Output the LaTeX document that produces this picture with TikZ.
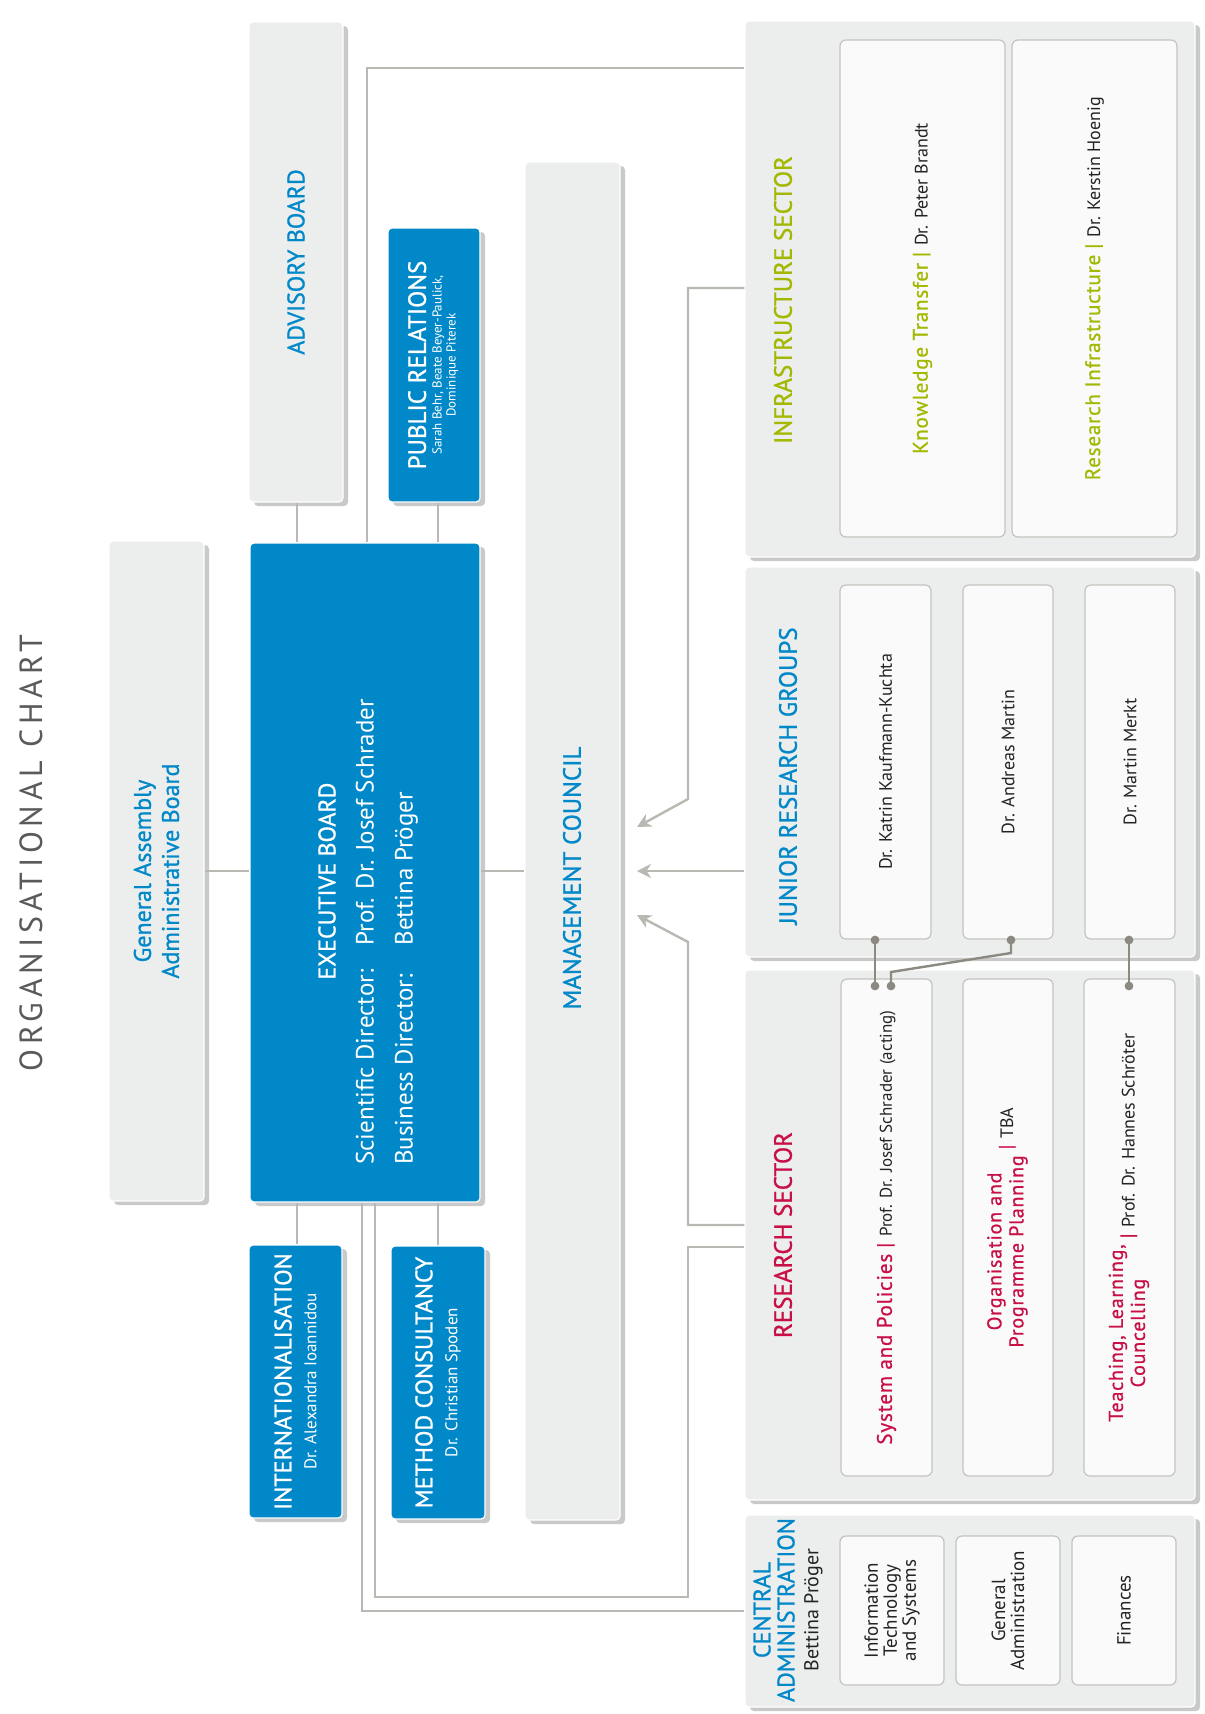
\documentclass[tikz,border=0pt]{standalone}
\usepackage{fontspec}
\setmainfont{PT Sans}
\newfontfamily\titlefont[LetterSpace=15]{PT Sans}
\newfontfamily\medfont[FakeBold=1]{PT Sans}
\newfontfamily\labfont[FakeBold=0.8,LetterSpace=4]{PT Sans}
\usetikzlibrary{positioning,fit,shadows,arrows.meta}

\definecolor{ipnblue}{RGB}{0,136,201}
\definecolor{boxgray}{RGB}{236,237,237}
\definecolor{unitwhite}{RGB}{250,250,250}
\definecolor{unitline}{RGB}{196,195,190}
\definecolor{connline}{RGB}{186,184,178}
\definecolor{linkdark}{RGB}{140,138,128}
\definecolor{infgreen}{RGB}{163,184,0}
\definecolor{rscol}{RGB}{200,16,70}
\definecolor{titlegray}{RGB}{90,90,90}
\definecolor{namecol}{RGB}{35,35,35}

\newcommand{\fsz}[2]{\fontsize{#1}{#2}\selectfont}
\newcommand{\sepbar}{\hspace{3pt}{\medfont|}\hspace{3pt}}

\tikzset{
	box/.style={inner sep=0pt, rounded corners=2pt, line width=0.6pt, draw=white,
		drop shadow={shadow xshift=2.5pt, shadow yshift=-2pt, opacity=0.42}},
	graybox/.style={box, fill=boxgray},
	bluebox/.style={box, fill=ipnblue},
	unitbox/.style={inner sep=0pt, rounded corners=3pt, fill=unitwhite, draw=unitline, line width=0.6pt},
	rot/.style={rotate=90, inner sep=0pt, align=center},
	conn/.style={draw=connline, line width=1.2pt},
	arr/.style={conn, -{Stealth[length=7pt,width=7pt]}},
	link/.style={draw=linkdark, line width=1.2pt},
	dot/.style={fill=linkdark, draw=none}
}

\begin{document}
\begin{tikzpicture}[x=0.5pt,y=-0.5pt]
	\path[use as bounding box, fill=white] (0,0) rectangle (1205,1714);

	\node[graybox, fit={(109,541) (204,1201)}] (ga) {};
	\node[bluebox, fit={(250,543) (480,1202)}] (exec) {};
	\node[graybox, fit={(249,22) (343,502)}] (adv) {};
	\node[bluebox, fit={(388,228) (480,502)}] (pr) {};
	\node[graybox, fit={(525,162) (620,1520)}] (mc) {};
	\node[bluebox, fit={(249,1245) (342,1518)}] (intl) {};
	\node[bluebox, fit={(391,1246) (485,1519)}] (mcons) {};

	\node[graybox, fit={(745,21) (1195,557)}] (isec) {};
	\node[unitbox, fit={(840,40) (1005,537)}] (kt) {};
	\node[unitbox, fit={(1012,40) (1177,537)}] (ri) {};

	\node[graybox, fit={(745,567) (1195,957)}] (jrg) {};
	\node[unitbox, fit={(840,585) (931,939)}] (jr1) {};
	\node[unitbox, fit={(963,585) (1053,939)}] (jr2) {};
	\node[unitbox, fit={(1085,585) (1175,939)}] (jr3) {};

	\node[graybox, fit={(745,970) (1195,1500)}] (rsec) {};
	\node[unitbox, fit={(841,979) (932,1476)}] (rs1) {};
	\node[unitbox, fit={(963,979) (1053,1476)}] (rs2) {};
	\node[unitbox, fit={(1084,979) (1175,1476)}] (rs3) {};

	\node[graybox, fit={(745,1515) (1195,1707)}] (cadm) {};
	\node[unitbox, fit={(840,1536) (944,1685)}] (ca1) {};
	\node[unitbox, fit={(956,1536) (1060,1685)}] (ca2) {};
	\node[unitbox, fit={(1072,1536) (1176,1685)}] (ca3) {};

	\coordinate (mcin1) at (637,827);
	\coordinate (mcin2) at (637,0 |- ga.east);
	\coordinate (mcin3) at (637,915);

	\draw[conn] (297,0 |- adv.south) -- (297,0 |- exec.north);
	\draw[conn] (438,0 |- pr.south) -- (438,0 |- exec.north);
	\draw[conn] (367,0 |- exec.north) |- (isec.west |- 0,68);
	\draw[conn] (297,0 |- exec.south) -- (297,0 |- intl.north);
	\draw[conn] (438,0 |- exec.south) -- (438,0 |- mcons.north);
	\draw[conn] (362,0 |- exec.south) |- (cadm.west);
	\draw[conn] (375,0 |- exec.south) |- (688,1597) -- (688,1247) -- (rsec.west |- 0,1247);
	\draw[conn] (ga.east) -- (exec.west |- ga.east);
	\draw[conn] (exec.east |- ga.east) -- (mc.west |- ga.east);

	\draw[arr] (isec.west |- 0,288) -- (688,288) -- (688,799) -- (mcin1);
	\draw[arr] (jrg.west |- ga.east) -- (mcin2);
	\draw[arr] (rsec.west |- 0,1225) -- (688,1225) -- (688,942) -- (mcin3);

	\draw[link] (875,0 |- jr1.south) -- (875,986);
	\draw[link] (1011,0 |- jr2.south) -- (1011,953) -- (891,972) -- (891,986);
	\draw[link] (1129,0 |- jr3.south) -- (1129,986);
	\foreach \px/\py in {875/940, 1011/940, 1129/940, 875/986, 891/986, 1129/986}
		\draw[dot] (\px,\py) circle(2.2pt);

	\node[rot, font=\titlefont\fsz{16}{18}, text=titlegray] (title) at (31,853) {ORGANISATIONAL CHART};
	\node[rot, font=\medfont\fsz{12}{14}, text=ipnblue] (gatxt) at (ga) {General Assembly\\Administrative Board};
	\node[rot, font=\medfont\fsz{12}{14}, text=ipnblue] (advtxt) at (adv) {ADVISORY BOARD};
	\node[rot, font=\medfont\fsz{12.5}{11.5}, text=white] (prtxt) at (pr)
		{PUBLIC RELATIONS\\{\normalfont\fsz{6.5}{7}\begin{tabular}{@{}c@{}}Sarah Behr, Beate Beyer-Paulick,\\Dominique Piterek\end{tabular}}};
	\node[rot, font=\medfont\fsz{12}{12.5}, text=white] (intltxt) at (intl) {INTERNATIONALISATION\\{\normalfont\fsz{8.5}{9}Dr. Alexandra Ioannidou}};
	\node[rot, font=\medfont\fsz{12}{12.5}, text=white] (mconstxt) at (mcons) {METHOD CONSULTANCY\\{\normalfont\fsz{8.5}{9}Dr. Christian Spoden}};
	\node[rot, font=\medfont\fsz{12}{14}, text=white, anchor=west] (exectxt) at (327,980) {EXECUTIVE BOARD};
	\node[rot, font=\fsz{12.5}{15}, text=white, anchor=west] (dirtxt) at (387,1165)
		{\begin{tabular}{@{}l@{\hspace{12pt}}l@{}}Scientific Director: & Prof. Dr. Josef Schrader\\[4.5pt]Business Director: & Bettina Pröger\end{tabular}};
	\node[rot, font=\medfont\fsz{12.5}{14}, text=ipnblue] (mctxt) at (572,878) {MANAGEMENT COUNCIL};

	\node[rot, font=\medfont\fsz{12.5}{14}, text=infgreen] (isectxt) at (783,300) {INFRASTRUCTURE SECTOR};
	\node[rot, font=\fsz{9}{11}, text=namecol] (kttxt) at (kt) {{\labfont\fsz{10.5}{12}\color{infgreen}Knowledge Transfer\sepbar}Dr. Peter Brandt};
	\node[rot, font=\fsz{9}{11}, text=namecol] (ritxt) at (ri) {{\labfont\fsz{10.5}{12}\color{infgreen}Research Infrastructure\sepbar}Dr. Kerstin Hoenig};

	\node[rot, font=\medfont\fsz{12.5}{14}, text=ipnblue] (jrgtxt) at (788,776) {JUNIOR RESEARCH GROUPS};
	\node[rot, font=\fsz{9}{11}, text=namecol] (jr1txt) at (jr1) {Dr. Katrin Kaufmann-Kuchta};
	\node[rot, font=\fsz{9}{11}, text=namecol] (jr2txt) at (jr2) {Dr. Andreas Martin};
	\node[rot, font=\fsz{9}{11}, text=namecol] (jr3txt) at (jr3) {Dr. Martin Merkt};

	\node[rot, font=\medfont\fsz{12.5}{14}, text=rscol] (rsectxt) at (783,1235) {RESEARCH SECTOR};
	\node[rot, font=\fsz{8.5}{10}, text=namecol] (rs1txt) at (rs1) {{\labfont\fsz{10.5}{12}\color{rscol}System and Policies\sepbar}Prof. Dr. Josef Schrader (acting)};
	\node[rot, font=\fsz{9}{10}, text=namecol] (rs2txt) at (rs2)
		{\labfont\fsz{10}{11}\begin{tabular}{@{}c@{}}\color{rscol}Organisation and\\\color{rscol}Programme Planning\end{tabular}{\color{rscol}\sepbar}{\normalfont\fsz{9}{10}TBA}};
	\node[rot, font=\fsz{9}{10}, text=namecol] (rs3txt) at (rs3)
		{\labfont\fsz{10}{11}\begin{tabular}{@{}c@{}}\color{rscol}Teaching, Learning,\\\color{rscol}Councelling\end{tabular}{\color{rscol}\sepbar}{\normalfont\fsz{9}{10}Prof. Dr. Hannes Schröter}};

	\node[rot, font=\medfont\fsz{12}{12}, text=ipnblue] (cadmtxt) at (788,1610) {CENTRAL\\ADMINISTRATION\\{\normalfont\color{namecol}\fsz{10}{12}Bettina Pröger}};
	\node[rot, font=\fsz{9.5}{9.5}, text=namecol] (ca1txt) at (ca1) {Information\\Technology\\and Systems};
	\node[rot, font=\fsz{9.5}{9.5}, text=namecol] (ca2txt) at (ca2) {General\\Administration};
	\node[rot, font=\fsz{9.5}{9.5}, text=namecol] (ca3txt) at (ca3) {Finances};
\end{tikzpicture}
\end{document}
